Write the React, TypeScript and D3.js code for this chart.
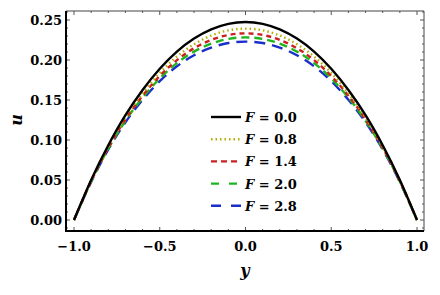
import React, { useEffect, useRef } from 'react';
import * as d3 from 'd3';

const yPos = [-1, -0.9, -0.8, -0.7, -0.6, -0.5, -0.4, -0.3, -0.2, -0.1, 0, 0.1, 0.2, 0.3, 0.4, 0.5, 0.6, 0.7, 0.8, 0.9, 1];

const uF00 = [0, 0.05, 0.0935, 0.131, 0.1625, 0.189, 0.2105, 0.2268, 0.2383, 0.2452, 0.2475, 0.2452, 0.2383, 0.2268, 0.2105, 0.189, 0.1625, 0.131, 0.0935, 0.05, 0];
const uF08 = [0, 0.0492, 0.0917, 0.128, 0.1583, 0.1838, 0.2043, 0.2197, 0.2306, 0.2371, 0.2392, 0.2371, 0.2306, 0.2197, 0.2043, 0.1838, 0.1583, 0.128, 0.0917, 0.0492, 0];
const uF14 = [0, 0.0486, 0.0904, 0.1259, 0.1554, 0.1801, 0.1998, 0.2147, 0.2251, 0.2313, 0.2333, 0.2313, 0.2251, 0.2147, 0.1998, 0.1801, 0.1554, 0.1259, 0.0904, 0.0486, 0];
const uF20 = [0, 0.0481, 0.0893, 0.1241, 0.1529, 0.1769, 0.1961, 0.2105, 0.2204, 0.2264, 0.2283, 0.2264, 0.2204, 0.2105, 0.1961, 0.1769, 0.1529, 0.1241, 0.0893, 0.0481, 0];
const uF28 = [0, 0.0475, 0.0881, 0.1222, 0.1502, 0.1736, 0.1921, 0.206, 0.2155, 0.2212, 0.223, 0.2212, 0.2155, 0.206, 0.1921, 0.1736, 0.1502, 0.1222, 0.0881, 0.0475, 0];

const labels = ['0.0', '0.8', '1.4', '2.0', '2.8'];
const xTicks = [-1, -0.5, 0, 0.5, 1];
const yTicks = [0, 0.05, 0.1, 0.15, 0.2, 0.25];

export default function App() {
  const svgRef = useRef<SVGSVGElement>(null);

  useEffect(() => {
    if (!svgRef.current) return;
    const svg = d3.select(svgRef.current);
    svg.selectAll('*').remove();

    const left = 66, right = 424, top = 11, bottom = 231;
    const font = 'DejaVu Serif';

    const x = d3.scaleLinear().domain([-1, 1]).range([74, 417]);
    const y = d3.scaleLinear().domain([0, 0.25]).range([220, 20]);

    const series = [
      { vals: uF00, color: '#000000', dash: null, legendDash: null },
      { vals: uF08, color: '#b3ad00', dash: '1.5,3', legendDash: '1.5,3' },
      { vals: uF14, color: '#cc1f1f', dash: '5,4', legendDash: '6,4' },
      { vals: uF20, color: '#1fb51f', dash: '8,5', legendDash: '8,10' },
      { vals: uF28, color: '#1a2ecc', dash: '11,7', legendDash: '10,10' },
    ];

    const line = d3.line<number>()
      .x((_, i) => x(yPos[i]))
      .y(d => y(d))
      .curve(d3.curveNatural);

    const g = svg.append('g');

    // curves, last series first so black ends on top
    series.slice().reverse().forEach(s => {
      g.append('path')
        .datum(s.vals)
        .attr('d', line)
        .attr('fill', 'none')
        .attr('stroke', s.color)
        .attr('stroke-width', 2.4)
        .attr('stroke-dasharray', s.dash);
    });

    // frame
    svg.append('line').attr('x1', left).attr('x2', right).attr('y1', top).attr('y2', top).attr('stroke', '#444').attr('stroke-width', 1);
    svg.append('line').attr('x1', right).attr('x2', right).attr('y1', top).attr('y2', bottom).attr('stroke', '#444').attr('stroke-width', 1);

    // ticks
    const xMinor = d3.range(-1, 1.0001, 0.1);
    const yMinor = d3.range(-0.01, 0.2601, 0.01);
    xMinor.forEach(v => {
      const major = xTicks.some(t => Math.abs(t - v) < 1e-6);
      const len = major ? 4 : 2;
      svg.append('line').attr('x1', x(v)).attr('x2', x(v)).attr('y1', bottom).attr('y2', bottom - len).attr('stroke', '#555');
      svg.append('line').attr('x1', x(v)).attr('x2', x(v)).attr('y1', top).attr('y2', top + len).attr('stroke', '#555');
    });
    yMinor.forEach(v => {
      const major = yTicks.some(t => Math.abs(t - v) < 1e-6);
      const len = major ? 4 : 2;
      svg.append('line').attr('x1', left).attr('x2', left + len).attr('y1', y(v)).attr('y2', y(v)).attr('stroke', '#555');
      svg.append('line').attr('x1', right).attr('x2', right - len).attr('y1', y(v)).attr('y2', y(v)).attr('stroke', '#555');
    });

    svg.append('line').attr('x1', left).attr('x2', left).attr('y1', top).attr('y2', bottom + 1).attr('stroke', '#000').attr('stroke-width', 2);
    svg.append('line').attr('x1', left - 1).attr('x2', right).attr('y1', bottom).attr('y2', bottom).attr('stroke', '#000').attr('stroke-width', 2);

    // tick labels
    xTicks.forEach(v => {
      svg.append('text')
        .attr('x', x(v)).attr('y', 251)
        .attr('text-anchor', 'middle')
        .attr('font-family', font).attr('font-size', 13).attr('font-weight', 'bold')
        .text(d3.format('.1f')(v).replace('-', '\u2212'));
    });
    yTicks.forEach(v => {
      svg.append('text')
        .attr('x', 62).attr('y', y(v) + 5)
        .attr('text-anchor', 'end')
        .attr('font-family', font).attr('font-size', 13).attr('font-weight', 'bold')
        .text(d3.format('.2f')(v));
    });

    // axis labels
    svg.append('text')
      .attr('x', 245).attr('y', 276)
      .attr('text-anchor', 'middle')
      .attr('font-family', font).attr('font-size', 16).attr('font-style', 'italic').attr('font-weight', 'bold')
      .text('y');
    svg.append('text')
      .attr('transform', 'translate(22,120) rotate(-90)')
      .attr('text-anchor', 'middle')
      .attr('font-family', font).attr('font-size', 16).attr('font-style', 'italic').attr('font-weight', 'bold')
      .text('u');

    // legend
    series.forEach((s, i) => {
      const ly = 117 + i * 22.2;
      svg.append('line')
        .attr('x1', 211).attr('x2', 241).attr('y1', ly).attr('y2', ly)
        .attr('stroke', s.color).attr('stroke-width', 2.4)
        .attr('stroke-dasharray', s.legendDash);
      const t = svg.append('text')
        .attr('x', 245).attr('y', ly + 5)
        .attr('font-family', font).attr('font-size', 13).attr('font-weight', 'bold');
      t.append('tspan').attr('font-style', 'italic').text('F');
      t.append('tspan').text(` = ${labels[i]}`);
    });
  }, []);

  return (
    <svg ref={svgRef} width={440} height={295} style={{ display: 'block', background: '#fff', margin: '-8px' }} />
  );
}
